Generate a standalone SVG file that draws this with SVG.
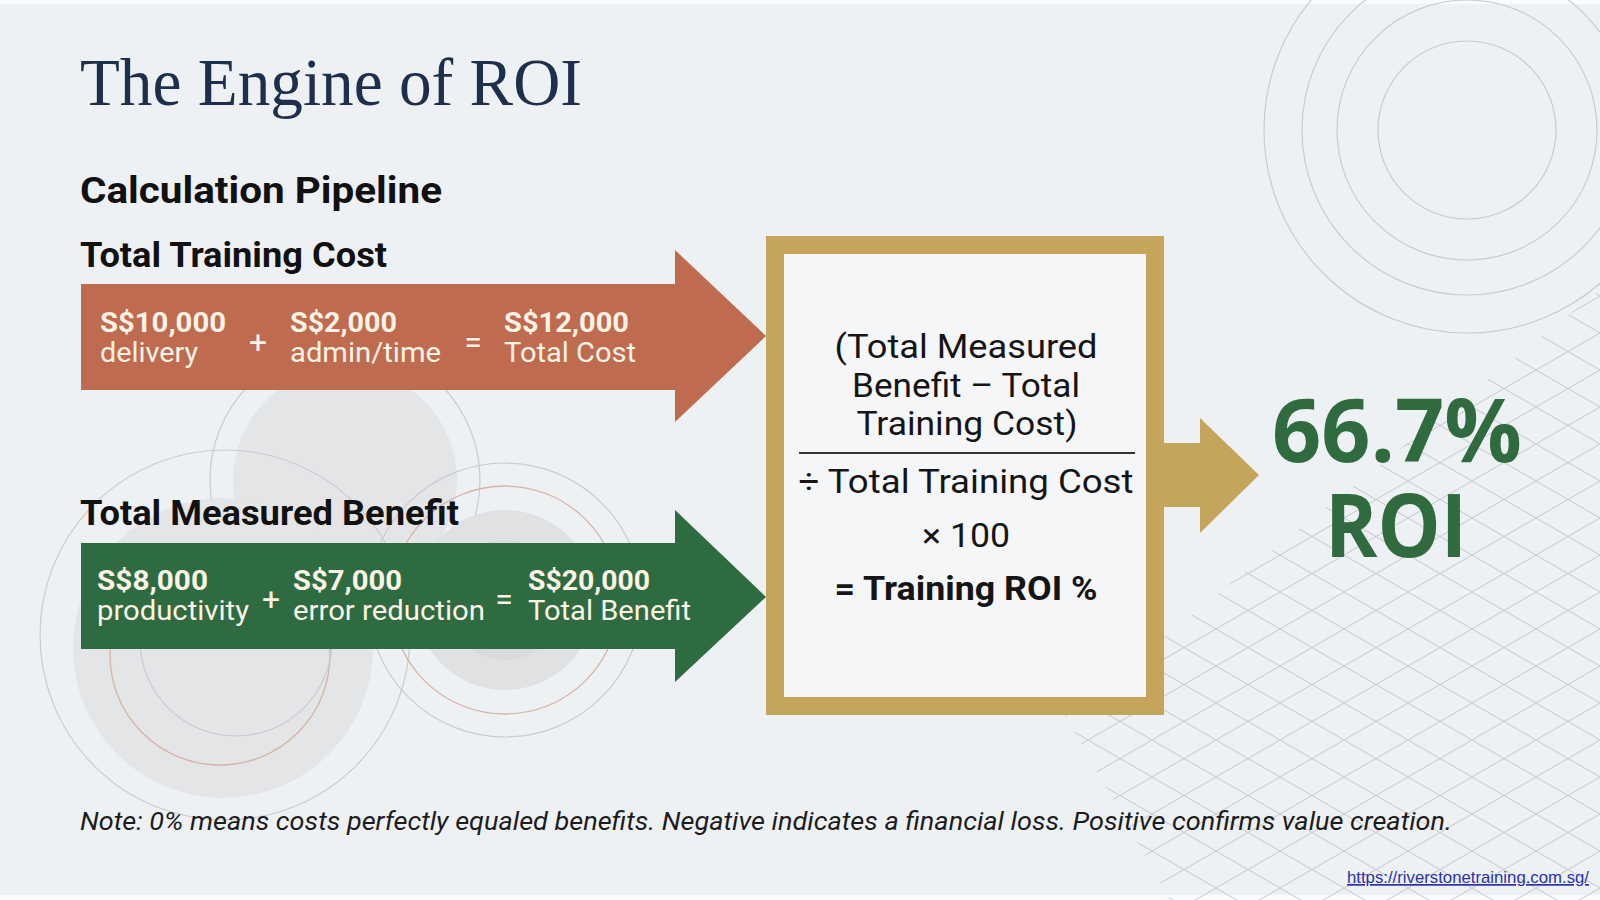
<svg xmlns="http://www.w3.org/2000/svg" width="1600" height="900" viewBox="0 0 1600 900">
<style>
.bg{fill:#eef1f4}
.ring{fill:none;stroke:#c9cbce;stroke-width:1.2}
.ringS{fill:none;stroke:#d6b3a6;stroke-width:1.3}
.disc{fill:#e4e5e7}
.title{font-family:"Liberation Serif","DejaVu Serif",serif;font-size:68px;fill:#1d2f4b}
.h{font-family:Roboto,"Liberation Sans",sans-serif;font-weight:700;fill:#111}
.amt{font-family:Roboto,"Liberation Sans",sans-serif;font-weight:700;font-size:27px;fill:#fbf3e6}
.lbl{font-family:Roboto,"Liberation Sans",sans-serif;font-size:27px;fill:#fbf3e6}
.op{font-family:Roboto,"Liberation Sans",sans-serif;font-size:32px;fill:#fbf3e6;text-anchor:middle}
.f{font-family:Roboto,"Liberation Sans",sans-serif;font-size:34px;fill:#151515;text-anchor:middle}
.big{font-family:"Open Sans","Noto Sans",sans-serif;font-weight:700;font-size:88px;fill:#2f6b3f}
.note{font-family:Roboto,"Liberation Sans",sans-serif;font-style:italic;font-size:25px;fill:#1c1c1c}
</style>
<defs>
<pattern id="lat" patternUnits="userSpaceOnUse" x="0" y="0" width="64" height="37">
<path d="M0,0 L64,37 M0,37 L64,0" stroke="#c4c7cb" stroke-width="1" fill="none"/>
</pattern>
<clipPath id="latClip"><polygon points="1065,715 1600,290 1600,900 1170,900"/></clipPath>
</defs>
<rect class="bg" x="0" y="0" width="1600" height="900"/>
<rect x="0" y="0" width="1600" height="4" fill="#fafbfc"/>
<rect x="0" y="895" width="1600" height="5" fill="#fafbfc"/>

<g id="background-decor">
<rect x="1000" y="280" width="600" height="620" fill="url(#lat)" clip-path="url(#latClip)"/>
<circle class="ring" cx="1467" cy="130" r="89"/>
<circle class="ring" cx="1467" cy="130" r="130"/>
<circle class="ring" cx="1467" cy="130" r="165"/>
<circle class="ring" cx="1467" cy="130" r="203"/>
<circle class="disc" cx="345" cy="480" r="112"/>
<circle class="ring" cx="345" cy="480" r="135"/>
<circle class="disc" cx="223" cy="648" r="150"/>
<circle class="ring" cx="225" cy="635" r="185"/>
<circle class="ringS" cx="220" cy="655" r="110"/>
<circle class="ring" cx="236" cy="640" r="96"/>
<circle class="disc" cx="505" cy="600" r="90" style="fill:#e0e1e3"/>
<circle cx="505" cy="600" r="60" fill="#dadbdd"/>
<circle class="ringS" cx="505" cy="600" r="114"/>
<circle class="ring" cx="505" cy="600" r="137"/>
</g>

<text class="title" x="80" y="105" textLength="502" lengthAdjust="spacingAndGlyphs">The Engine of ROI</text>
<text class="h" x="80" y="203" font-size="36" font-weight="500" textLength="362" lengthAdjust="spacingAndGlyphs">Calculation Pipeline</text>

<g id="connectors">
<polygon id="cost-arrow" points="81,284 675,284 675,250 766,336 675,422 675,390 81,390" fill="#bf6b50"/>
<polygon id="benefit-arrow" points="81,543 675,543 675,510 766,597 675,682 675,649 81,649" fill="#2f6b41"/>
<polygon id="result-arrow" points="1164,443 1200,443 1200,418 1259,475 1200,533 1200,507 1164,507" fill="#c4a55b"/>
</g>

<g id="cost">
<text class="h" x="80" y="267" font-size="35" textLength="307" lengthAdjust="spacingAndGlyphs">Total Training Cost</text>
<text class="amt" x="100" y="332" textLength="126" lengthAdjust="spacingAndGlyphs">S$10,000</text>
<text class="lbl" x="100" y="362" textLength="98" lengthAdjust="spacingAndGlyphs">delivery</text>
<text class="op" x="258" y="353">+</text>
<text class="amt" x="290" y="332" textLength="107" lengthAdjust="spacingAndGlyphs">S$2,000</text>
<text class="lbl" x="290" y="362" textLength="151" lengthAdjust="spacingAndGlyphs">admin/time</text>
<text class="op" x="473" y="353">=</text>
<text class="amt" x="504" y="332" textLength="125" lengthAdjust="spacingAndGlyphs">S$12,000</text>
<text class="lbl" x="504" y="362" textLength="132" lengthAdjust="spacingAndGlyphs">Total Cost</text>
</g>

<g id="benefit">
<text class="h" x="80" y="525" font-size="35" textLength="379" lengthAdjust="spacingAndGlyphs">Total Measured Benefit</text>
<text class="amt" x="97" y="590" textLength="111" lengthAdjust="spacingAndGlyphs">S$8,000</text>
<text class="lbl" x="97" y="620" textLength="152" lengthAdjust="spacingAndGlyphs">productivity</text>
<text class="op" x="271" y="610">+</text>
<text class="amt" x="293" y="590" textLength="109" lengthAdjust="spacingAndGlyphs">S$7,000</text>
<text class="lbl" x="293" y="620" textLength="192" lengthAdjust="spacingAndGlyphs">error reduction</text>
<text class="op" x="504" y="610">=</text>
<text class="amt" x="528" y="590" textLength="122" lengthAdjust="spacingAndGlyphs">S$20,000</text>
<text class="lbl" x="528" y="620" textLength="163" lengthAdjust="spacingAndGlyphs">Total Benefit</text>
</g>

<g id="formula">
<rect x="775" y="245" width="380" height="461" fill="#f5f6f8" stroke="#c4a55b" stroke-width="18"/>
<text class="f" x="966" y="358" textLength="263" lengthAdjust="spacingAndGlyphs">(Total Measured</text>
<text class="f" x="966" y="397" textLength="228" lengthAdjust="spacingAndGlyphs">Benefit – Total</text>
<text class="f" x="967" y="435" textLength="221" lengthAdjust="spacingAndGlyphs">Training Cost)</text>
<line x1="799" y1="453" x2="1135" y2="453" stroke="#333" stroke-width="2"/>
<text class="f" x="966" y="493" font-size="35" textLength="335" lengthAdjust="spacingAndGlyphs">÷ Total Training Cost</text>
<text class="f" x="966" y="547" textLength="88" lengthAdjust="spacingAndGlyphs">× 100</text>
<text class="f" x="966" y="600" font-weight="700" textLength="263" lengthAdjust="spacingAndGlyphs">= Training ROI %</text>
</g>

<g id="result">
<text class="big" x="1272" y="462" textLength="250" lengthAdjust="spacingAndGlyphs">66.7%</text>
<text class="big" x="1325" y="557" textLength="142" lengthAdjust="spacingAndGlyphs">ROI</text>
</g>

<text class="note" x="80" y="830" textLength="1372" lengthAdjust="spacingAndGlyphs">Note: 0% means costs perfectly equaled benefits. Negative indicates a financial loss. Positive confirms value creation.</text>
<text x="1347" y="883" font-family="'Liberation Sans Narrow','Liberation Sans',sans-serif" font-size="17" fill="#2a33a8" text-decoration="underline" textLength="242" lengthAdjust="spacingAndGlyphs">https://riverstonetraining.com.sg/</text>
</svg>
